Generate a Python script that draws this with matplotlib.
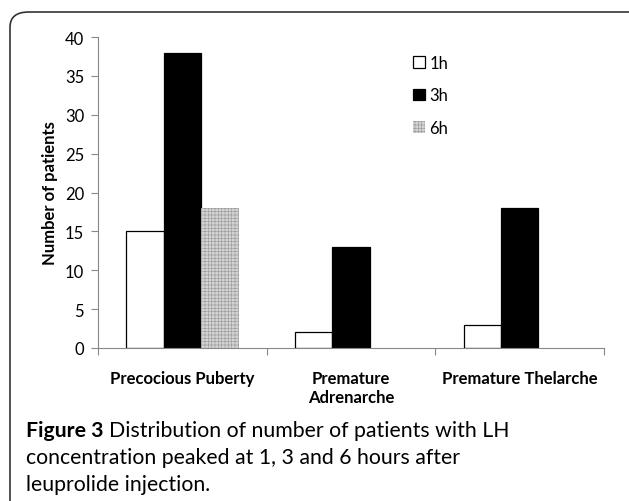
import matplotlib
matplotlib.use("Agg")
import matplotlib.pyplot as plt
from matplotlib.patches import FancyBboxPatch
import numpy as np

categories = ["Precocious Puberty", "Premature\nAdrenarche", "Premature Thelarche"]
series = ["1h", "3h", "6h"]
vals_1h = [15, 2, 3]
vals_3h = [38, 13, 18]
vals_6h = [18, 0, 0]
yticks = [0, 5, 10, 15, 20, 25, 30, 35, 40]

plt.rcParams['font.family'] = ['Lato', 'DejaVu Sans']
plt.rcParams['hatch.linewidth'] = 0.5

fig = plt.figure(figsize=(6.29, 5.02), dpi=100)
ax = fig.add_axes([0.1558, 0.305, 0.8045, 0.619])

x = np.arange(len(categories))
w = 0.222
ax.bar(x - w, vals_1h, w, color="white", edgecolor="black", linewidth=0.9, label=series[0])
ax.bar(x, vals_3h, w, color="black", edgecolor="black", linewidth=0.9, label=series[1])
ax.bar(x + w, vals_6h, w, color="#d4d4d4", edgecolor="#a0a0a0", hatch="+++++",
       linewidth=0, label=series[2])

ax.set_xlim(-0.5, 2.5)
ax.set_ylim(0, 40)
ax.set_yticks(yticks)
ax.tick_params(axis="y", labelsize=12, length=5, color="#888888", pad=5)
ax.set_xticks([-0.5, 0.5, 1.5, 2.5])
ax.set_xticklabels([])
ax.tick_params(axis="x", length=5, color="#888888")
for xi, c in zip(x, categories):
    ax.text(xi, -2.8, c, ha="center", va="top", fontsize=12, fontweight="bold",
            linespacing=1.25)
for s in ["top", "right"]:
    ax.spines[s].set_visible(False)
for s in ["left", "bottom"]:
    ax.spines[s].set_color("#888888")
ax.set_ylabel("Number of patients", fontsize=12, fontweight="bold", labelpad=5)

ax.legend(loc="upper left", bbox_to_anchor=(0.61, 0.965), frameon=False, fontsize=12,
          handlelength=0.7, handleheight=0.7, handletextpad=0.25, labelspacing=1.0,
          borderaxespad=0)

fig.patches.append(FancyBboxPatch((10 / 629, -0.05), 1.2, 1.05 - 13 / 502,
                                  boxstyle="round,pad=0,rounding_size=0.03",
                                  transform=fig.transFigure, fill=False,
                                  edgecolor="#333333", linewidth=1.2))

t1 = fig.text(26 / 629, 1 - 431 / 502, "Figure 3", fontsize=15.3, va="center", fontweight="bold")
fig.canvas.draw()
bb = t1.get_window_extent()
fig.text(bb.x1 / fig.bbox.width + 0.008, 1 - 431 / 502,
         "Distribution of number of patients with LH", fontsize=15.3, va="center")
fig.text(26 / 629, 1 - 458 / 502, "concentration peaked at 1, 3 and 6 hours after",
         fontsize=15.3, va="center")
fig.text(26 / 629, 1 - 485 / 502, "leuprolide injection.", fontsize=15.3, va="center")

fig.savefig("out.png", dpi=100)
